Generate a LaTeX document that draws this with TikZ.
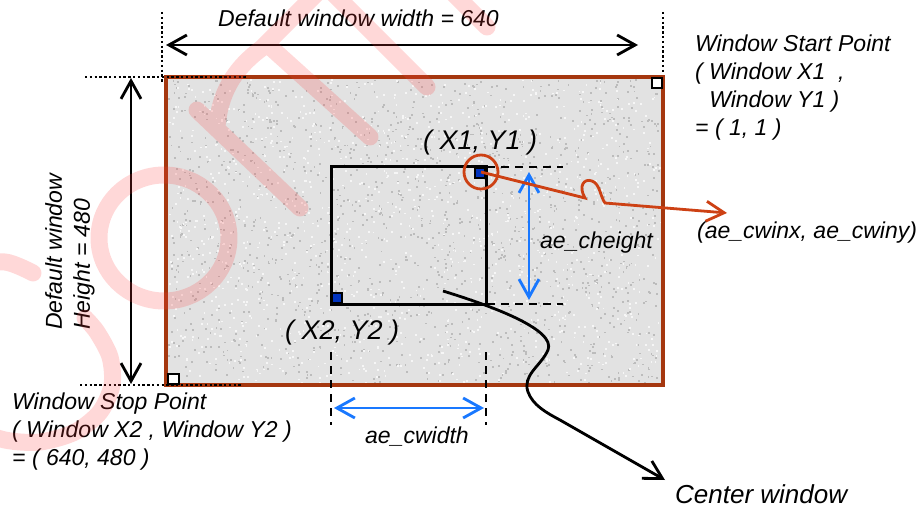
\documentclass[tikz,border=0pt]{standalone}
\usepackage{fontspec}
\setmainfont{Liberation Sans}
\usetikzlibrary{arrows.meta}

\definecolor{frameBrown}{RGB}{165,55,15}
\definecolor{markRed}{RGB}{205,65,20}
\definecolor{dimBlue}{RGB}{25,120,255}
\definecolor{cornerBlue}{RGB}{0,50,190}
\definecolor{granite}{RGB}{226,226,226}
\definecolor{graniteDark}{RGB}{188,188,188}
\definecolor{graniteLight}{RGB}{246,246,246}
\definecolor{stampPink}{RGB}{255,60,60}

\begin{document}
\begin{tikzpicture}[x=1pt,y=-1pt,
  >={Straight Barb[length=18pt,width=20pt]},
  txt/.style={inner sep=0pt, font=\fontsize{23}{28}\selectfont\itshape},
  bigtxt/.style={inner sep=0pt, font=\fontsize{27}{32}\selectfont\itshape},
  calltxt/.style={inner sep=0pt, font=\fontsize{26}{30}\selectfont\itshape},
  frame/.style={draw=frameBrown, line width=3.2pt},
  cropbox/.style={draw=black, line width=3pt},
  dimline/.style={black, line width=2.8pt},
  guide/.style={black, line width=2.4pt, dash pattern=on 2.4pt off 2.4pt},
  cutline/.style={black, line width=2.8pt, dash pattern=on 8pt off 6pt},
  span/.style={dimBlue, line width=2.8pt},
  marker/.style={draw=black, line width=2.2pt},
  pointer/.style={markRed, line width=2.8pt},
  stamp/.style={draw=stampPink, draw opacity=0.2, line width=17pt, line cap=round, line join=round}]

\useasboundingbox (0,0) rectangle (919,508);

% ---- default window (textured area) ----
\coordinate (winTL) at (166,77);
\coordinate (winBR) at (663,385);
\fill[granite] (winTL) rectangle (winBR);
\pgfmathsetseed{11}
\foreach \k in {1,...,1500}{
  \pgfmathsetmacro\sx{168+492*rnd}
  \pgfmathsetmacro\sy{79+303*rnd}
  \fill[graniteDark] (\sx,\sy) rectangle ++(1.8,1.8);
}
\foreach \k in {1,...,1200}{
  \pgfmathsetmacro\sx{168+492*rnd}
  \pgfmathsetmacro\sy{79+303*rnd}
  \fill[graniteLight] (\sx,\sy) rectangle ++(1.8,1.8);
}
\draw[frame] (winTL) rectangle (winBR);

% corner markers of the default window
\draw[marker, fill=white] (652,78) rectangle (662,88);
\draw[marker, fill=white] (168,374) rectangle (179,384);

% ---- guide lines ----
\draw[guide] (162,12) -- (162,82);
\draw[guide] (663,12) -- (663,72);
\draw[guide] (85,77) -- (247,77);
\draw[guide] (80,385) -- (243,385);

% ---- dimension arrows of the default window ----
\coordinate (wL) at (166,45);
\coordinate (wR) at (638,45);
\draw[dimline,<->] (wL) -- (wR);
\coordinate (hT) at (131,78);
\coordinate (hB) at (131,384);
\draw[dimline,<->] (hT) -- (hB);

% ---- center window ----
\coordinate (cTL) at (331,167);
\coordinate (cBR) at (486,304);
\draw[cropbox] (cTL) rectangle (cBR);
\draw[marker, fill=cornerBlue] (475,168) rectangle (485,178);
\draw[marker, fill=cornerBlue] (332,293) rectangle (342,303);

% extension lines
\draw[cutline] (487,167) -- (563,167);
\draw[cutline] (487,304) -- (563,304);
\draw[cutline] (331,352) -- (331,425);
\draw[cutline] (486,352) -- (486,425);

% blue size arrows
\coordinate (chT) at (529,172);
\coordinate (chB) at (529,300);
\draw[span,<->] (chT) -- (chB);
\coordinate (cwL) at (334,408);
\coordinate (cwR) at (484,408);
\draw[span,<->] (cwL) -- (cwR);

% red marker on the start corner and its pointer
\coordinate (p1) at (481,172);
\coordinate (cwinTip) at (727,213);
\draw[pointer] (p1) circle[radius=17];
\draw[pointer,->] (p1) -- (585,198)
  .. controls (578,186) and (584,178) .. (592,181)
  .. controls (600,184) and (600,196) .. (605,203) -- (cwinTip);

% pointer to the center window label
\coordinate (cStart) at (443,291);
\coordinate (cTip) at (665,480);
\draw[dimline,->] (cStart) .. controls (495,307) and (556,330) .. (548,350)
  .. controls (541,366) and (522,375) .. (528,392)
  .. controls (533,405) and (545,412) .. (560,420) -- (cTip);

% ---- labels ----
\node[txt, anchor=base west] (wLbl) at (218,27) {Default window width = 640};
\node[txt, anchor=north west, align=left, rotate=90] (hLbl) at (45,330)
  {Default window\\Height = 480};
\node[txt, anchor=north west, align=left] (startLbl) at (695,35)
  {Window Start Point\\( Window X1~~,\\\hphantom{(~}Window Y1 )\\= ( 1, 1 )};
\node[txt, anchor=north west, align=left] (stopLbl) at (12,393)
  {Window Stop Point\\( Window X2 , Window Y2 )\\= ( 640, 480 )};
\node[bigtxt, anchor=base west] (p1Lbl) at (423,150) {( X1, Y1 )};
\node[bigtxt, anchor=base west] (p2Lbl) at (285,339) {( X2, Y2 )};
\node[txt, anchor=base west] (chLbl) at (540,248) {ae\_cheight};
\node[txt, anchor=base west] (cwLbl) at (365,443) {ae\_cwidth};
\node[txt, anchor=base west] (cwinLbl) at (697,238) {(ae\_cwinx, ae\_cwiny)};
\node[calltxt, anchor=base west] (centerLbl) at (675,503) {Center window};

% ---- faint stamp lettering ----
\begin{scope}
  \clip (0,0) rectangle (919,508);
  \draw[stamp]
    plot[smooth] coordinates {(33,273) (5,262) (-30,268) (-58,300) (-68,350)
      (-52,400) (-25,428) (5,440) (40,442) (75,432) (100,412) (112,385)
      (110,357) (97,332) (85,318)}
    (164,238) ellipse[x radius=65, y radius=63]
    (197,110) -- (300,208)
    (217,126) .. controls (220,95) and (232,70) .. (262,48) -- (335,-25)
    (268,45) -- (370,137)
    (427,87) -- (310,-30)
    (487,27) -- (440,-20);
\end{scope}

\end{tikzpicture}
\end{document}
